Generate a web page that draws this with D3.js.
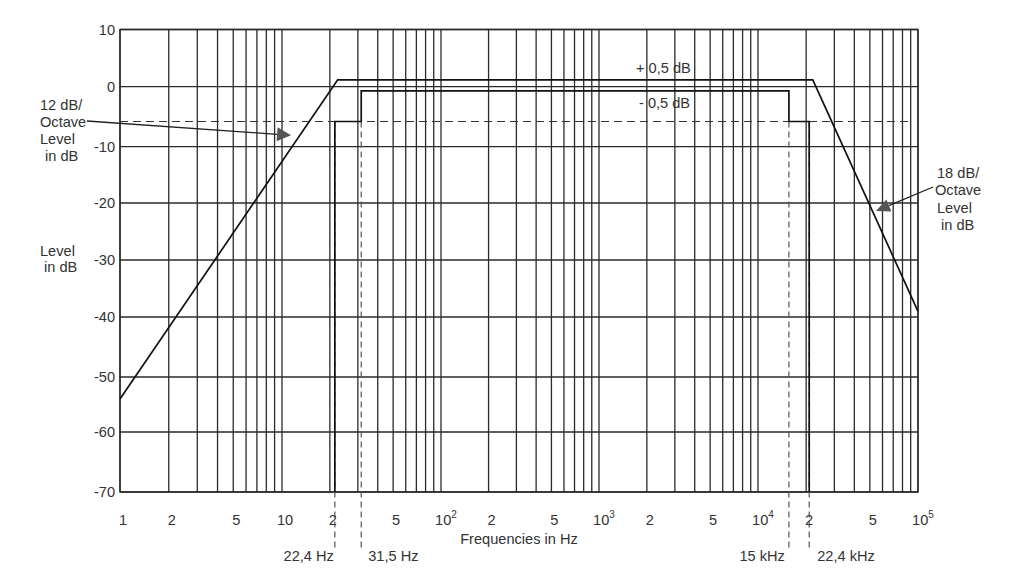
<!DOCTYPE html>
<html><head><meta charset="utf-8">
<script src="https://cdn.jsdelivr.net/npm/d3@7"></script>
<style>body{margin:0;background:#fff}svg{display:block}</style>
</head><body><svg id="c" width="1024" height="583"></svg>
<script>
// ---- data ----
const decades = [1, 10, 100, 1000, 10000, 100000];
const yTickValues = [10, 0, -10, -20, -30, -40, -50, -60, -70];
const xTickValues = [1, 2, 5, 10, 20, 50, 100, 200, 500, 1000, 2000, 5000, 10000, 20000, 50000, 100000];
const xTickLabels = ["1","2","5","10","2","5","10","2","5","10","2","5","10","2","5","10"];
const xTickExponents = ["","","","","","","2","","","3","","","4","","","5"];
const upperFreq = [1, 22.4, 22000, 100000];
const upperDb = [-54, 1.2, 1.2, -39];
const lowerFreq = [21.5, 21.5, 31.5, 31.5, 15600, 15600, 20900, 20900];
const lowerDb = [-70, -5.8, -5.8, -0.7, -0.7, -5.8, -5.8, -70];
const refLevelDb = -5.8;
const markerFreq = [21.5, 31.5, 15600, 20900];
const markerLabels = ["22,4 Hz", "31,5 Hz", "15 kHz", "22,4 kHz"];
const arrowTipLeft = [11.4, -8.1];
const arrowTipRight = [54600, -21.4];

// ---- layout ----
const svg = d3.select("#c");
const FONT = "'Liberation Sans', Arial, sans-serif";
const FS = 14.6;
const x = d3.scaleLog().domain(decades).range([120, 282, 441, 599, 758, 918]);
const y = d3.scaleLinear().domain(yTickValues).range([29.5, 86.7, 146.7, 203, 260, 317, 377, 432, 492]);
const X0 = x(1), X1 = x(100000), Y0 = y(10), Y1 = y(-70);

const grid = svg.append("g").attr("stroke", "#2a2a2a").attr("stroke-width", 1.3);
const vLines = [];
decades.slice(0, -1).forEach(d => { for (let m = 1; m <= 9; m++) vLines.push(d * m); });
vLines.push(100000);
grid.selectAll("line.v").data(vLines).join("line")
  .attr("x1", d => x(d)).attr("x2", d => x(d)).attr("y1", Y0).attr("y2", Y1);
grid.selectAll("line.h").data(yTickValues).join("line")
  .attr("x1", X0).attr("x2", X1).attr("y1", d => y(d)).attr("y2", d => y(d));
svg.append("rect").attr("x", X0).attr("y", Y0).attr("width", X1 - X0).attr("height", Y1 - Y0)
  .attr("fill", "none").attr("stroke", "#2a2a2a").attr("stroke-width", 1.4);

// dashed reference level
svg.append("line").attr("x1", X0).attr("x2", X1 - 6).attr("y1", y(refLevelDb)).attr("y2", y(refLevelDb))
  .attr("stroke", "#333").attr("stroke-width", 1.1).attr("stroke-dasharray", "8,5");

// dashed frequency markers
svg.selectAll("line.mk").data(markerFreq).join("line")
  .attr("x1", d => x(d)).attr("x2", d => x(d)).attr("y1", y(refLevelDb)).attr("y2", 548)
  .attr("stroke", "#555").attr("stroke-width", 1.2).attr("stroke-dasharray", "6,4");

// curves
const line = d3.line().x(d => x(d[0])).y(d => y(d[1]));
svg.append("path").datum(upperFreq.map((f, i) => [f, upperDb[i]])).attr("d", line)
  .attr("fill", "none").attr("stroke", "#111").attr("stroke-width", 1.7);
svg.append("path").datum(lowerFreq.map((f, i) => [f, lowerDb[i]])).attr("d", line)
  .attr("fill", "none").attr("stroke", "#111").attr("stroke-width", 1.7);

const txt = (xx, yy, s, anchor = "start", size = FS) => svg.append("text")
  .attr("x", xx).attr("y", yy).attr("text-anchor", anchor)
  .attr("font-family", FONT).attr("font-size", size).attr("fill", "#333").text(s);

// y tick labels
svg.selectAll("text.yt").data(yTickValues).join("text")
  .attr("x", 115).attr("y", d => y(d)).attr("dy", "0.36em").attr("text-anchor", "end")
  .attr("font-family", FONT).attr("font-size", FS).attr("fill", "#333").text(d => d);

// x tick labels
const xt = svg.selectAll("text.xt").data(xTickValues).join("text")
  .attr("x", (d, i) => x(d) + (xTickExponents[i] ? 5 : 3)).attr("y", 525).attr("text-anchor", "middle")
  .attr("font-family", FONT).attr("font-size", FS).attr("fill", "#333");
xt.append("tspan").text((d, i) => xTickLabels[i]);
xt.append("tspan").attr("dy", -7).attr("font-size", 10).text((d, i) => xTickExponents[i]);

txt(519, 544, "Frequencies in Hz", "middle");

txt(x(markerFreq[0]) - 1, 561, markerLabels[0], "end");
txt(x(markerFreq[1]) + 7, 561, markerLabels[1], "start");
txt(x(markerFreq[2]) - 4, 561, markerLabels[2], "end");
txt(x(markerFreq[3]) + 8, 561, markerLabels[3], "start");

txt(636, 73, "+ 0,5 dB");
txt(639, 108, "- 0,5 dB");

txt(40, 256, "Level");
txt(44, 272, "in dB");

txt(40, 110, "12 dB/");
txt(40, 127, "Octave");
txt(40, 144, "Level");
txt(45, 161, "in dB");
txt(937, 178, "18 dB/");
txt(935, 195, "Octave");
txt(937, 213, "Level");
txt(941, 230, "in dB");

function arrow(from, tipData, len, half) {
  const tx = x(tipData[0]), ty = y(tipData[1]);
  const dx = tx - from[0], dy = ty - from[1];
  const L = Math.hypot(dx, dy), ux = dx / L, uy = dy / L;
  const bx = tx - ux * len, by = ty - uy * len;
  svg.append("line").attr("x1", from[0]).attr("y1", from[1]).attr("x2", bx).attr("y2", by)
    .attr("stroke", "#222").attr("stroke-width", 1.3);
  svg.append("path").attr("d", `M${tx},${ty}L${bx - uy * half},${by + ux * half}L${bx + uy * half},${by - ux * half}Z`)
    .attr("fill", "#555");
}
arrow([87, 121], arrowTipLeft, 14, 7);
arrow([933, 187], arrowTipRight, 14, 6.5);
</script></body></html>
